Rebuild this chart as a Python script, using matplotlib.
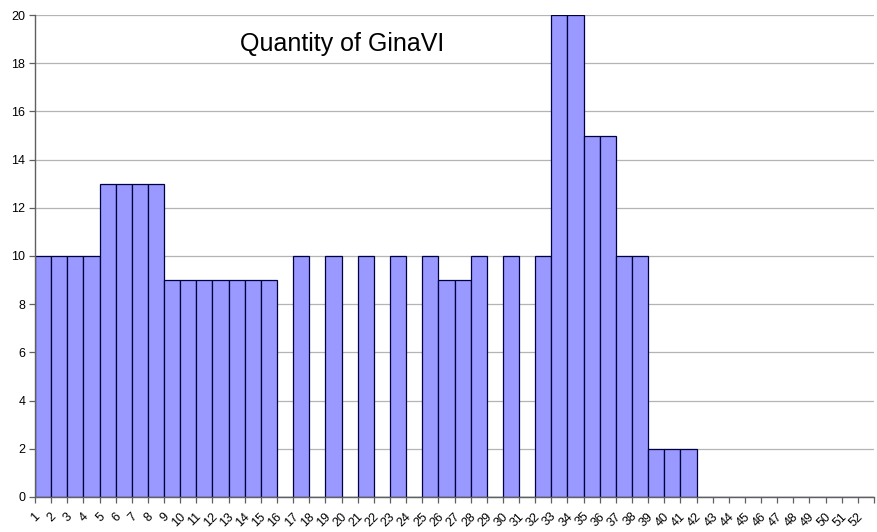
import numpy as np
import matplotlib
matplotlib.use("Agg")
import matplotlib.pyplot as plt
from matplotlib.transforms import ScaledTranslation

plt.rcParams["font.family"] = ["Liberation Sans", "DejaVu Sans"]

# quantity per position, 52 positions (0 = none)
positions = list(range(1, 53))
quantity = [10, 10, 10, 10, 13, 13, 13, 13, 9, 9,
            9, 9, 9, 9, 9, 0, 10, 0, 10, 0,
            10, 0, 10, 0, 10, 9, 9, 10, 0, 10,
            0, 10, 20, 20, 15, 15, 10, 10, 2, 2,
            2, 0, 0, 0, 0, 0, 0, 0, 0, 0,
            0, 0]
title = "Quantity of GinaVI"

fig = plt.figure(figsize=(8.77, 5.32), dpi=100)
ax = fig.add_axes([0.0399, 0.0658, 0.9567, 0.906])

x = np.arange(len(positions))
ax.bar(x, quantity, width=1.0, color="#9999ff", edgecolor="#000040", linewidth=0.9, zorder=3)

ax.set_xlim(-0.5, len(positions) - 0.5)
ax.set_ylim(0, 20)
ax.set_yticks(np.arange(0, 21, 2))
ax.yaxis.grid(True, color="#b4b4b4", linewidth=0.9, zorder=0)

# labels under each category, tick marks on the category boundaries
ax.set_xticks(x)
ax.set_xticklabels([str(p) for p in positions], rotation=45, ha="right",
                   rotation_mode="anchor", fontsize=9)
ax.tick_params(axis="x", which="major", length=0, pad=6)
shift = ScaledTranslation(-0.09, -0.05, fig.dpi_scale_trans)
for lab in ax.get_xticklabels():
    lab.set_transform(lab.get_transform() + shift)
ax.set_xticks(np.arange(-0.5, len(positions), 1.0), minor=True)
ax.tick_params(axis="x", which="minor", length=4, color="#606060", width=0.9)
ax.tick_params(axis="y", length=4, color="#606060", width=0.9, labelsize=9, pad=3)

for s in ("top", "right"):
    ax.spines[s].set_visible(False)
for s in ("left", "bottom"):
    ax.spines[s].set_color("#606060")
    ax.spines[s].set_linewidth(1.0)
    ax.spines[s].set_zorder(4)

ax.text(0.366, 0.94, title, transform=ax.transAxes, ha="center", va="center",
        fontsize=18)

fig.savefig("out.png", dpi=100)
